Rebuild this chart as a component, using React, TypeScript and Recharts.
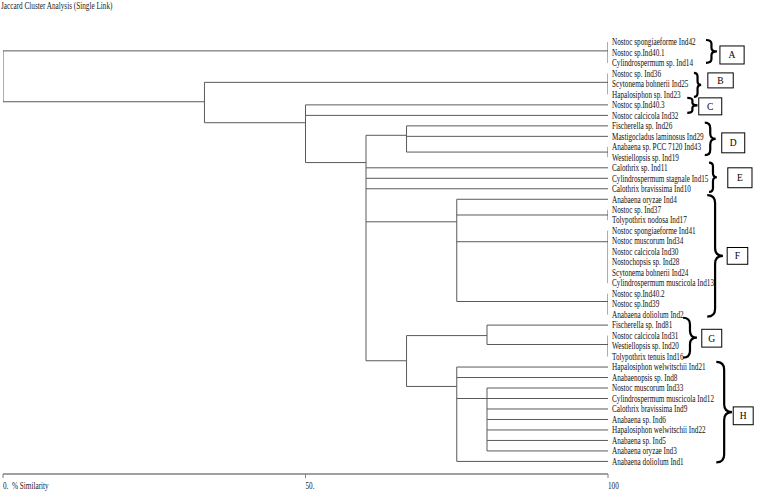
import { LineChart, Line, XAxis, YAxis, ReferenceArea } from "recharts";

const leafNames = [
  "Nostoc spongiaeforme Ind42",
  "Nostoc sp.Ind40.1",
  "Cylindrospermum sp. Ind14",
  "Nostoc sp. Ind36",
  "Scytonema bohnerii Ind25",
  "Hapalosiphon sp. Ind23",
  "Nostoc sp.Ind40.3",
  "Nostoc calcicola Ind32",
  "Fischerella sp. Ind26",
  "Mastigocladus laminosus Ind29",
  "Anabaena sp. PCC 7120 Ind43",
  "Westiellopsis sp. Ind19",
  "Calothrix sp. Ind11",
  "Cylindrospermum stagnale Ind15",
  "Calothrix bravissima Ind10",
  "Anabaena oryzae Ind4",
  "Nostoc sp. Ind37",
  "Tolypothrix nodosa Ind17",
  "Nostoc spongiaeforme Ind41",
  "Nostoc muscorum Ind34",
  "Nostoc calcicola Ind30",
  "Nostochopsis sp. Ind28",
  "Scytonema bohnerii Ind24",
  "Cylindrospermum muscicola Ind13",
  "Nostoc sp.Ind40.2",
  "Nostoc sp.Ind39",
  "Anabaena doliolum Ind2",
  "Fischerella sp. Ind81",
  "Nostoc calcicola Ind31",
  "Westiellopsis sp. Ind20",
  "Tolypothrix tenuis Ind16",
  "Hapalosiphon welwitschii Ind21",
  "Anabaenopsis sp. Ind8",
  "Nostoc muscorum Ind33",
  "Cylindrospermum muscicola Ind12",
  "Calothrix bravissima Ind9",
  "Anabaena sp. Ind6",
  "Hapalosiphon welwitschii Ind22",
  "Anabaena sp. Ind5",
  "Anabaena oryzae Ind3",
  "Anabaena doliolum Ind1",
];

// strains joined at 100 % similarity (first..last leaf, "at" = where the stem leaves, in leaf rows)
const identicalGroups = [
  { id: "gA", first: 0, last: 2, at: 0.85 },
  { id: "gB", first: 3, last: 5, at: 3.85 },
  { id: "gD", first: 10, last: 11, at: 10.5 },
  { id: "gF1", first: 16, last: 17, at: 16.5 },
  { id: "gF2", first: 18, last: 23, at: 19.05 },
  { id: "gF3", first: 24, last: 26, at: 24.75 },
  { id: "gG", first: 28, last: 30, at: 28.85 },
];

// merge levels in % similarity; numbers in kids are leaf indices
const mergeNodes = [
  { id: "root", sim: 0, at: 3, kids: ["gA", "n33"] },
  { id: "n33", sim: 33.3, at: 5.7, kids: ["gB", "n50"] },
  { id: "n50", sim: 50, at: 7.7, kids: [6, 7, "n60"] },
  { id: "n60", sim: 60, at: 11.5, kids: ["nD", 12, 13, 14, "nF", "nGH"] },
  { id: "nD", sim: 66.7, at: 8.9, kids: [8, 9, "gD"] },
  { id: "nF", sim: 75, at: 17.15, kids: [15, "gF1", "gF2", "gF3"] },
  { id: "nGH", sim: 66.7, at: 30.4, kids: ["nG", "nH"] },
  { id: "nG", sim: 80, at: 28, kids: [27, "gG"] },
  { id: "nH", sim: 75, at: 32.85, kids: [31, 32, "nHs", 40] },
  { id: "nHs", sim: 80, at: 34, kids: [33, 34, 35, 36, 37, 38, 39] },
];

const clusterLetters = ["A", "B", "C", "D", "E", "F", "G", "H"];

const xTicks = [0, 50, 100];
const xTickLabels = ["0.\u00a0\u00a0% Similarity", "50.", "100"];

// brace + box placement (x in axis units past 100, y in leaf rows)
const braceLayout = [
  { bx: [116.2, 118.0], by: [-0.19, 2.0], kx: [118.5, 122.5], ky: [0.38, 2.1] },
  { bx: [114.2, 115.4], by: [2.95, 5.24], kx: [116.5, 120.7], ky: [2.95, 4.38] },
  { bx: [113.1, 114.8], by: [5.33, 6.76], kx: [115.0, 118.8], ky: [5.33, 6.95] },
  { bx: [116.0, 117.8], by: [7.7, 10.8], kx: [118.8, 122.6], ky: [8.67, 10.57] },
  { bx: [116.7, 118.0], by: [11.5, 14.3], kx: [119.8, 123.8], ky: [12.0, 13.9] },
  { bx: [116.4, 119.0], by: [14.6, 26.2], kx: [119.7, 123.1], ky: [19.6, 21.2] },
  { bx: [112.4, 114.7], by: [26.3, 30.1], kx: [115.5, 118.8], ky: [27.4, 29.1] },
  { bx: [117.9, 120.5], by: [30.5, 40.1], kx: [120.7, 124.0], ky: [34.8, 36.5] },
];

const serif = "'Liberation Serif', 'Times New Roman', serif";

type Pt = { x: number; y: number | null };

function buildTree(): Pt[] {
  const byId: Record<string, { sim: number; at: number }> = {};
  identicalGroups.forEach((g) => (byId[g.id] = { sim: 100, at: g.at }));
  mergeNodes.forEach((n) => (byId[n.id] = { sim: n.sim, at: n.at }));
  const ref = (k: string | number) =>
    typeof k === "number" ? { sim: 100, at: k } : byId[k];

  const pts: Pt[] = [];
  const seg = (x1: number, y1: number, x2: number, y2: number) => {
    pts.push({ x: x1, y: y1 }, { x: x2, y: y2 }, { x: x2, y: null });
  };
  mergeNodes.forEach((n) => {
    const kids = n.kids.map(ref);
    const ys = kids.map((k) => k.at);
    seg(n.sim, Math.min(...ys), n.sim, Math.max(...ys));
    kids.forEach((k) => seg(n.sim, k.at, k.sim, k.at));
  });
  identicalGroups.forEach((g) => seg(100, g.first, 100, g.last));
  return pts;
}

const treePoints = buildTree();

function LeafTick(props: any) {
  const { x, y, payload } = props;
  return (
    <g transform={`translate(${x},${y})`}>
      <text
        transform="scale(0.76,1)"
        dy="0.34em"
        fontSize={9.5}
        fontFamily={serif}
        fill="#111"
        textAnchor="start"
      >
        {leafNames[payload.value]}
      </text>
    </g>
  );
}

function SimTick(props: any) {
  const { x, y, payload } = props;
  const i = xTicks.indexOf(payload.value);
  return (
    <g transform={`translate(${x},${y + 9})`}>
      <text transform="scale(0.76,1)" fontSize={9.5} fontFamily={serif} fill="#222" textAnchor="start">
        {xTickLabels[i]}
      </text>
    </g>
  );
}

function Brace(props: any) {
  const { x, y, width: w, height: h } = props;
  const xm = x + w / 2;
  const ym = y + h / 2;
  const r = Math.min(w / 2, h / 6);
  const d = `M${x},${y} Q${xm},${y} ${xm},${y + r} L${xm},${ym - r} Q${xm},${ym} ${x + w},${ym} Q${xm},${ym} ${xm},${ym + r} L${xm},${y + h - r} Q${xm},${y + h} ${x},${y + h}`;
  return <path d={d} fill="none" stroke="#000" strokeWidth={2.2} />;
}

function LetterBox(letter: string) {
  return (props: any) => {
    const { x, y, width, height } = props;
    return (
      <g>
        <rect x={x} y={y} width={width} height={height} fill="#fff" stroke="#000" strokeWidth={1} />
        <text
          x={x + width / 2}
          y={y + height / 2}
          dy="0.35em"
          textAnchor="middle"
          fontSize={9.5}
          fontFamily={serif}
          fill="#000"
        >
          {letter}
        </text>
      </g>
    );
  };
}

export default function App() {
  return (
    <div style={{ position: "absolute", left: 0, top: 0, width: 762, height: 494, background: "#fff" }}>
      <div
        style={{
          position: "absolute",
          left: 1,
          top: 0,
          fontFamily: serif,
          fontSize: 9.5,
          lineHeight: "12px",
          color: "#222",
          whiteSpace: "nowrap",
          transform: "scaleX(0.76)",
          transformOrigin: "left top",
        }}
      >
        Jaccard Cluster Analysis (Single Link)
      </div>
      <LineChart width={762} height={494} margin={{ top: 21, right: 0, bottom: 0, left: 3 }}>
        <XAxis
          type="number"
          dataKey="x"
          domain={[0, 100]}
          allowDataOverflow
          ticks={xTicks}
          interval={0}
          height={20}
          tickSize={4}
          tickMargin={2}
          stroke="#808080"
          axisLine={{ stroke: "#808080", strokeWidth: 1.5 }}
          tickLine={{ stroke: "#808080" }}
          tick={<SimTick />}
        />
        <YAxis
          type="number"
          orientation="right"
          domain={[-2, 41.2]}
          allowDataOverflow
          reversed
          ticks={leafNames.map((_, i) => i)}
          interval={0}
          width={154}
          axisLine={false}
          tickLine={false}
          tickSize={0}
          tickMargin={4}
          tick={<LeafTick />}
        />
        <Line
          data={treePoints}
          dataKey="y"
          type="linear"
          stroke="#5a5a5a"
          strokeWidth={1}
          dot={false}
          activeDot={false}
          connectNulls={false}
          isAnimationActive={false}
        />
        {braceLayout.map((b, i) => (
          <ReferenceArea
            key={"brace" + i}
            x1={b.bx[0]}
            x2={b.bx[1]}
            y1={b.by[0]}
            y2={b.by[1]}
            ifOverflow="visible"
            shape={(p: any) => <Brace {...p} />}
          />
        ))}
        {braceLayout.map((b, i) => (
          <ReferenceArea
            key={"box" + i}
            x1={b.kx[0]}
            x2={b.kx[1]}
            y1={b.ky[0]}
            y2={b.ky[1]}
            ifOverflow="visible"
            shape={LetterBox(clusterLetters[i])}
          />
        ))}
      </LineChart>
    </div>
  );
}
